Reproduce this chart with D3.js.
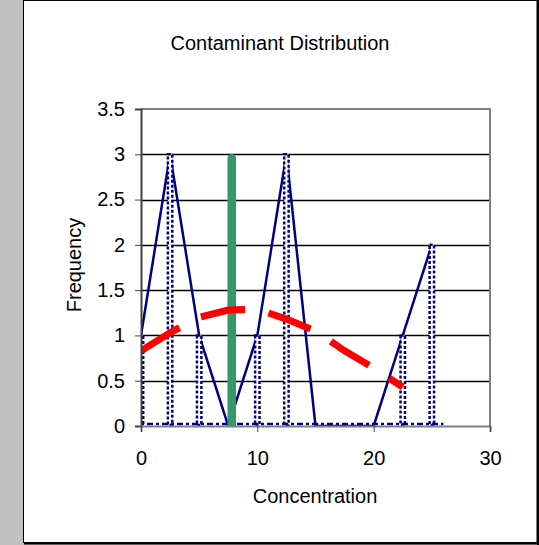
<!DOCTYPE html>
<html><head><meta charset="utf-8">
<script src="https://cdn.jsdelivr.net/npm/d3@7"></script>
<style>html,body{margin:0;padding:0;background:#c0c0c0;}svg{display:block;}</style>
</head><body>
<script>
// ---- data ----
const title = "Contaminant Distribution";
const xLabel = "Concentration";
const yLabel = "Frequency";
const binCenters = [0, 2.5, 5, 7.5, 10, 12.5, 15, 17.5, 20, 22.5, 25];
const frequencies = [1, 3, 1, 0, 1, 3, 0, 0, 0, 1, 2];
const normalX = [0, 2.5, 5, 7.5, 10, 12.5, 15, 17.5, 20, 22.5];
const normalY = [0.83, 1.03, 1.20, 1.28, 1.29, 1.18, 1.05, 0.83, 0.64, 0.43];
const meanX = [7.8, 7.8];
const meanY = [0, 3];
const xTicks = [0, 10, 20, 30];
const yTicks = [0, 0.5, 1, 1.5, 2, 2.5, 3, 3.5];
const baselineX = [0, 26];

const W = 539, H = 545;
const svg = d3.select("body").append("svg").attr("width", W).attr("height", H);
svg.append("rect").attr("width", W).attr("height", H).attr("fill", "#c0c0c0");
// chart area
svg.append("rect").attr("x", 23.5).attr("y", 0.5).attr("width", 513.5).attr("height", 542)
  .attr("fill", "#fff").attr("stroke", "#000").attr("stroke-width", 1);
svg.append("line").attr("x1", 538).attr("x2", 538).attr("y1", 0).attr("y2", 545).attr("stroke", "#000").attr("stroke-width", 2);
svg.append("line").attr("x1", 24).attr("x2", 539).attr("y1", 543.5).attr("y2", 543.5).attr("stroke", "#000").attr("stroke-width", 2);

const x = d3.scaleLinear().domain([0, 30]).range([141, 490]);
const y = d3.scaleLinear().domain([0, 3.5]).range([426, 109]);
const font = "'Liberation Sans', Arial, sans-serif";
const fs = 20;

svg.append("defs").append("clipPath").attr("id", "clip").append("rect")
  .attr("x", x(0)).attr("y", y(3.5)).attr("width", x(30) - x(0)).attr("height", y(0) - y(3.5));

// gridlines
svg.append("g").selectAll("line").data(yTicks.filter(d => d > 0 && d < 3.5)).join("line")
  .attr("x1", x(0)).attr("x2", x(30)).attr("y1", d => Math.round(y(d)) + 0.5).attr("y2", d => Math.round(y(d)) + 0.5)
  .attr("stroke", "#000").attr("stroke-width", 1.3);

// plot border top/right
svg.append("path").attr("d", `M${x(0)},${y(3.5)}H${x(30)}V${y(0)}`).attr("fill", "none")
  .attr("stroke", "#808080").attr("stroke-width", 2);

const g = svg.append("g").attr("clip-path", "url(#clip)");

// frequency polygon
g.append("path").datum(binCenters.map((c, i) => [c, frequencies[i]]))
  .attr("d", d3.line().x(d => x(d[0])).y(d => y(d[1])))
  .attr("fill", "none").attr("stroke", "#000080").attr("stroke-width", 2.5);

// histogram columns
const bw = 0.38;
g.append("g").selectAll("rect").data(binCenters.map((c, i) => [c, frequencies[i]]).filter(d => d[1] > 0)).join("rect")
  .attr("x", d => x(d[0] - bw / 2)).attr("width", d => x(bw) - x(0))
  .attr("y", d => y(d[1])).attr("height", d => y(0) - y(d[1]) - 1)
  .attr("fill", "#fff").attr("stroke", "#000080").attr("stroke-width", 2.5).attr("stroke-dasharray", "3,2");
g.append("line").attr("x1", x(baselineX[0])).attr("x2", x(baselineX[1]))
  .attr("y1", y(0) - 2).attr("y2", y(0) - 2)
  .attr("stroke", "#000080").attr("stroke-width", 2.5).attr("stroke-dasharray", "3,3,6,3");

// mean line
g.append("line").attr("x1", x(meanX[0])).attr("x2", x(meanX[1]))
  .attr("y1", y(meanY[0])).attr("y2", y(meanY[1]) + 4)
  .attr("stroke", "#339966").attr("stroke-width", 8.5).attr("stroke-linecap", "round");

// normal curve
g.append("path").datum(normalX.map((v, i) => [v, normalY[i]]))
  .attr("d", d3.line().x(d => x(d[0])).y(d => y(d[1])))
  .attr("fill", "none").attr("stroke", "#ff0000").attr("stroke-width", 7)
  .attr("stroke-dasharray", "45,24");

// axes
const yAxis = svg.append("g").attr("transform", `translate(${x(0)},0)`)
  .call(d3.axisLeft(y).tickValues(yTicks).tickFormat(d3.format("")).tickSize(6).tickPadding(10));
yAxis.select(".domain").attr("stroke", "#404040").attr("stroke-width", 2);
yAxis.selectAll(".tick line").attr("stroke", "#404040");
yAxis.selectAll("text").attr("font-family", font).attr("font-size", fs).attr("fill", "#000");

const xAxis = svg.append("g").attr("transform", `translate(0,${y(0)})`)
  .call(d3.axisBottom(x).tickValues(xTicks).tickSize(6).tickPadding(19));
xAxis.select(".domain").attr("stroke", "#808080").attr("stroke-width", 2);
xAxis.selectAll(".tick line").attr("stroke", "#404040");
xAxis.selectAll("text").attr("font-family", font).attr("font-size", fs).attr("fill", "#000");

// titles
svg.append("text").attr("x", 280).attr("y", 50).attr("text-anchor", "middle")
  .attr("font-family", font).attr("font-size", fs).text(title);
svg.append("text").attr("x", 315).attr("y", 503).attr("text-anchor", "middle")
  .attr("font-family", font).attr("font-size", fs).text(xLabel);
svg.append("text").attr("transform", "translate(81,265) rotate(-90)").attr("text-anchor", "middle")
  .attr("font-family", font).attr("font-size", fs).text(yLabel);
</script>
</body></html>
